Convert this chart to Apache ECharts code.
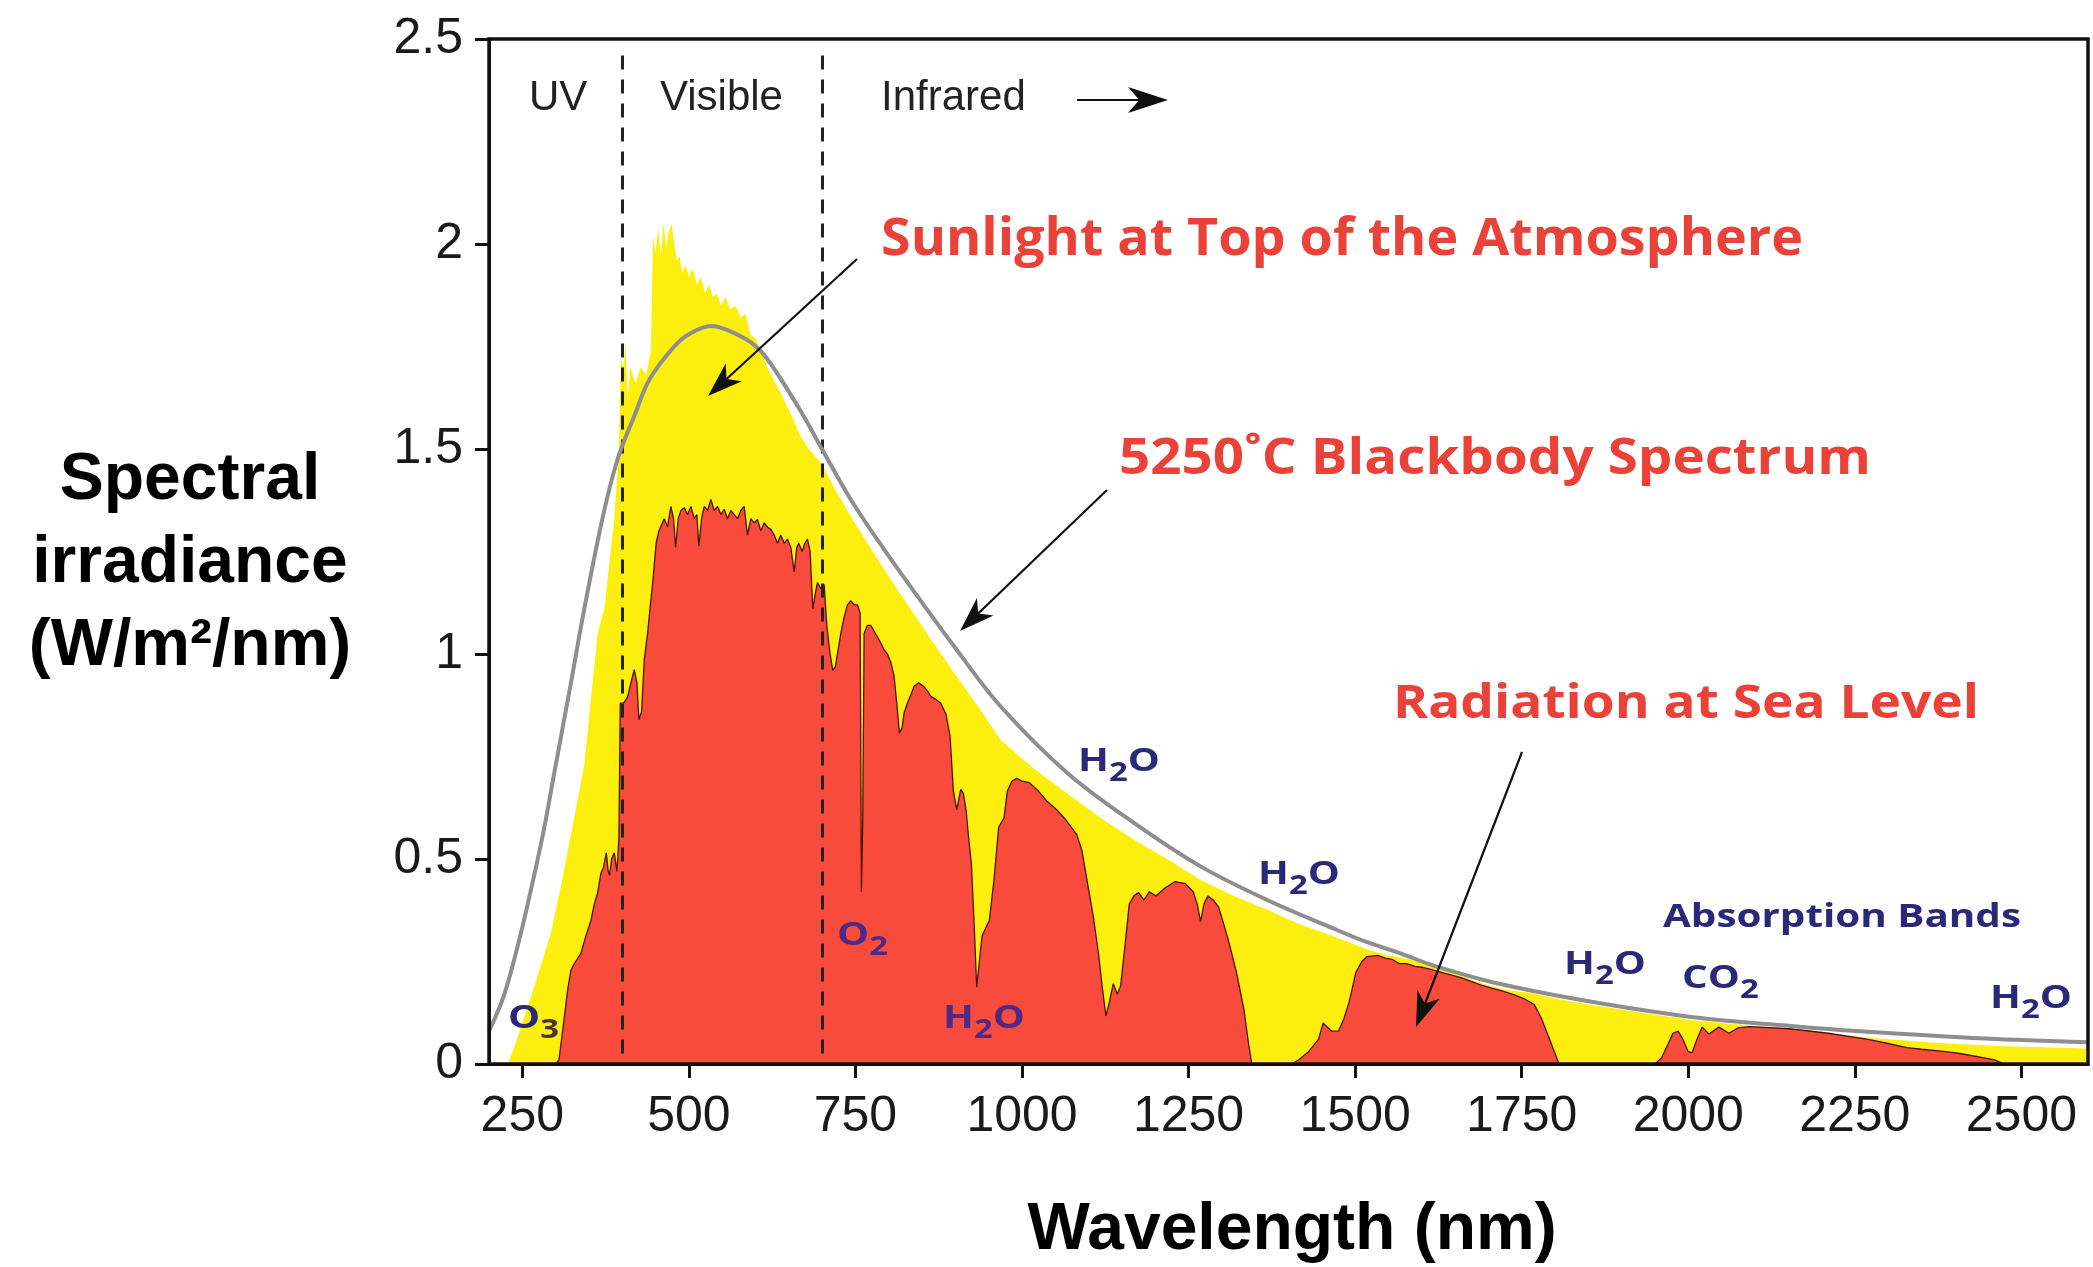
<!DOCTYPE html>
<html><head><meta charset="utf-8">
<script src="https://cdn.jsdelivr.net/npm/echarts@6/dist/echarts.min.js"></script>
<style>html,body{margin:0;padding:0;background:#fff}#c{width:2093px;height:1267px}</style>
</head><body><div id="c"></div>
<script>
// ---- data (wavelength nm, W/m2/nm) ----
const xTicks = [250, 500, 750, 1000, 1250, 1500, 1750, 2000, 2250, 2500];
const bandEdges = [400, 700];

const blackbody = [[200,0.08],[223,0.17],[248,0.32],[265,0.44],[281,0.56],[298,0.71],[306,0.78],[323,0.93],[343,1.11],[371,1.336],[393,1.475],[418,1.58],[441,1.67],[478,1.75],[500,1.78],[533,1.80],[558,1.79],[593,1.76],[618,1.719],[668,1.592],[698,1.505],[743,1.377],[793,1.255],[843,1.141],[898,1.019],[968,0.872],[1068,0.71],[1168,0.588],[1268,0.482],[1368,0.40],[1468,0.33],[1518,0.297],[1568,0.27],[1618,0.24],[1718,0.195],[1868,0.148],[2018,0.112],[2167,0.091],[2247,0.081],[2446,0.062],[2600,0.053]];

const topOfAtmosphere = [[200,0],[228,0],[240,0.05],[253,0.115],[270,0.2],[293,0.32],[310,0.45],[323,0.56],[343,0.73],[353,0.89],[363,1.05],[373,1.11],[388,1.33],[395,1.50],[398,1.72],[402,1.70],[405,1.76],[408,1.62],[412,1.70],[420,1.66],[428,1.70],[436,1.68],[443,1.74],[446,2.02],[450,1.98],[454,2.04],[458,1.97],[462,2.05],[466,1.99],[470,2.03],[474,2.05],[478,2.0],[482,1.96],[486,1.97],[490,1.93],[495,1.95],[500,1.92],[506,1.94],[512,1.90],[518,1.92],[524,1.88],[530,1.90],[536,1.87],[542,1.88],[548,1.85],[555,1.87],[562,1.84],[570,1.85],[578,1.82],[585,1.83],[592,1.78],[600,1.77],[610,1.73],[620,1.69],[630,1.66],[640,1.63],[650,1.595],[660,1.56],[668,1.53],[680,1.50],[698,1.467],[720,1.40],[743,1.336],[768,1.27],[793,1.206],[818,1.145],[843,1.084],[870,1.02],[902,0.945],[935,0.87],[968,0.79],[1018,0.72],[1068,0.66],[1118,0.60],[1168,0.547],[1218,0.50],[1268,0.449],[1318,0.41],[1368,0.376],[1418,0.34],[1468,0.311],[1518,0.28],[1534,0.272],[1550,0.265],[1600,0.25],[1650,0.22],[1688,0.198],[1720,0.183],[1768,0.172],[1800,0.16],[1850,0.145],[1919,0.128],[2000,0.108],[2094,0.093],[2180,0.08],[2270,0.064],[2370,0.052],[2474,0.043],[2600,0.038]];

const seaLevel = [[200,0],[300,0],[305,0.01],[312,0.1],[318,0.18],[323,0.229],[330,0.25],[338,0.27],[345,0.31],[353,0.35],[358,0.39],[363,0.417],[368,0.466],[372,0.48],[376,0.515],[379,0.47],[381,0.46],[384,0.50],[388,0.515],[392,0.47],[395,0.55],[397,0.88],[402,0.88],[408,0.895],[413,0.93],[418,0.962],[422,0.93],[425,0.84],[429,0.86],[433,0.986],[438,1.05],[443,1.133],[446,1.18],[451,1.272],[455,1.30],[458,1.304],[463,1.33],[468,1.31],[473,1.36],[477,1.33],[480,1.26],[484,1.33],[488,1.35],[493,1.357],[498,1.34],[503,1.36],[508,1.33],[512,1.34],[515,1.263],[519,1.33],[523,1.36],[528,1.35],[533,1.377],[538,1.35],[543,1.36],[548,1.34],[553,1.353],[558,1.33],[563,1.35],[568,1.34],[573,1.33],[578,1.35],[583,1.36],[588,1.29],[593,1.33],[598,1.32],[603,1.328],[608,1.30],[613,1.32],[618,1.31],[623,1.304],[628,1.29],[633,1.27],[638,1.29],[643,1.27],[648,1.28],[653,1.26],[658,1.20],[662,1.26],[665,1.27],[670,1.25],[674,1.27],[678,1.28],[682,1.25],[686,1.11],[690,1.15],[693,1.174],[698,1.16],[703,1.17],[707,1.07],[712,1.0],[716,0.96],[720,0.97],[724,1.01],[728,1.05],[733,1.09],[738,1.12],[743,1.13],[748,1.12],[753,1.12],[757,1.10],[759,0.42],[761,0.60],[763,1.05],[768,1.07],[773,1.07],[780,1.05],[788,1.027],[793,1.01],[798,1.0],[803,0.98],[808,0.946],[812,0.88],[816,0.807],[820,0.82],[823,0.856],[828,0.88],[833,0.90],[838,0.921],[845,0.93],[853,0.92],[858,0.91],[863,0.897],[870,0.89],[878,0.88],[886,0.853],[892,0.80],[897,0.666],[902,0.62],[908,0.67],[912,0.66],[916,0.62],[920,0.55],[924,0.489],[928,0.35],[932,0.188],[936,0.25],[940,0.312],[945,0.33],[951,0.35],[958,0.45],[965,0.578],[973,0.60],[978,0.666],[985,0.69],[992,0.697],[1000,0.69],[1011,0.686],[1025,0.665],[1038,0.64],[1052,0.62],[1066,0.595],[1082,0.56],[1090,0.52],[1098,0.444],[1107,0.36],[1115,0.267],[1121,0.18],[1126,0.117],[1131,0.15],[1137,0.196],[1143,0.17],[1148,0.19],[1154,0.28],[1161,0.39],[1168,0.41],[1175,0.418],[1183,0.40],[1191,0.42],[1201,0.41],[1215,0.43],[1230,0.445],[1245,0.44],[1257,0.42],[1263,0.39],[1268,0.347],[1273,0.39],[1279,0.41],[1287,0.40],[1295,0.383],[1303,0.34],[1311,0.294],[1322,0.223],[1333,0.134],[1340,0.05],[1345,0],[1405,0],[1415,0.01],[1430,0.03],[1445,0.06],[1452,0.1],[1458,0.09],[1465,0.08],[1475,0.08],[1483,0.11],[1491,0.151],[1501,0.223],[1510,0.25],[1518,0.262],[1534,0.265],[1545,0.258],[1556,0.255],[1566,0.245],[1577,0.245],[1590,0.238],[1600,0.236],[1615,0.23],[1638,0.22],[1660,0.21],[1688,0.193],[1705,0.185],[1722,0.178],[1740,0.168],[1755,0.158],[1769,0.145],[1780,0.11],[1792,0.06],[1806,0],[1950,0],[1960,0.015],[1970,0.05],[1977,0.075],[1985,0.08],[1992,0.06],[2000,0.03],[2006,0.028],[2013,0.06],[2021,0.09],[2031,0.073],[2046,0.09],[2061,0.075],[2075,0.088],[2092,0.091],[2152,0.086],[2210,0.075],[2270,0.06],[2300,0.05],[2328,0.04],[2350,0.036],[2387,0.03],[2410,0.025],[2444,0.015],[2460,0.01],[2474,0],[2600,0]];

// ---- styling helpers ----
const SANS = '"Liberation Sans", Arial, Helvetica, sans-serif';
const LBL = '"Open Sans", "Noto Sans", sans-serif';
const RED = '#EA4238', NAVY = '#2A2878', PURPLE = '#4E2A84';
const mctx = document.createElement('canvas').getContext('2d');
function textW(t, weight, size, fam) { mctx.font = weight + ' ' + size + 'px ' + fam; return mctx.measureText(t).width; }
function txt(t, x, y, size, weight, fam, color, align, sx) {
  return { type: 'text', x: x, y: y, z: 100, scaleX: sx || 1,
    style: { text: t, fontSize: size, fontWeight: weight, fontFamily: fam, fill: color,
      align: align, verticalAlign: 'middle', textAlign: align, textVerticalAlign: 'middle' } };
}
function fitted(t, left, capY, size, color, targetW) {
  const sx = targetW / textW(t, 'bold', size, LBL);
  return txt(t, left, capY, size, 'bold', LBL, color, 'left', sx);
}
const NAVY_SIZE = 32, SUB_SIZE = 26;
const navySx = 358 / textW('Absorption Bands', 'bold', NAVY_SIZE, LBL);
function chem(tokens, left, capY, color, subColor) {
  const els = []; let cx = left;
  tokens.forEach(function (tk) {
    const t = tk[0], sub = tk[1];
    const size = sub ? SUB_SIZE : NAVY_SIZE;
    els.push(txt(t, cx, capY + (sub ? 12 : 0), size, 'bold', LBL, sub && subColor ? subColor : color, 'left', navySx));
    cx += textW(t, 'bold', size, LBL) * navySx;
  });
  return els;
}
function arrow(x1, y1, x2, y2, hl, hw) {
  const dx = x2 - x1, dy = y2 - y1, L = Math.hypot(dx, dy), ux = dx / L, uy = dy / L, px = -uy, py = ux;
  const bx = x2 - ux * hl, by = y2 - uy * hl, nx = x2 - ux * hl * 0.72, ny = y2 - uy * hl * 0.72;
  return [
    { type: 'line', z: 100, shape: { x1: x1, y1: y1, x2: nx, y2: ny }, style: { stroke: '#111', lineWidth: 2.2 } },
    { type: 'polygon', z: 100, shape: { points: [[x2, y2], [bx + px * hw / 2, by + py * hw / 2], [nx, ny], [bx - px * hw / 2, by - py * hw / 2]] }, style: { fill: '#111' } }
  ];
}

const graphics = [].concat(
  [
    { type: 'rect', z: 50, silent: true, shape: { x: 489, y: 39, width: 1599, height: 1025 }, style: { fill: 'none', stroke: '#111', lineWidth: 3.5 } },
    txt('Spectral', 190, 481, 66, 'bold', SANS, '#000', 'center'),
    txt('irradiance', 190, 564, 66, 'bold', SANS, '#000', 'center'),
    txt('(W/m²/nm)', 190, 647, 66, 'bold', SANS, '#000', 'center'),
    txt('Wavelength (nm)', 1292, 1231, 66, 'bold', SANS, '#000', 'center'),
    txt('UV', 529, 98, 42, 'normal', SANS, '#222', 'left'),
    txt('Visible', 660, 98, 42, 'normal', SANS, '#222', 'left'),
    txt('Infrared', 881, 98, 42, 'normal', SANS, '#222', 'left'),
    fitted('Sunlight at Top of the Atmosphere', 881, 240, 52, RED, 922),
    fitted('5250˚C Blackbody Spectrum', 1119, 460, 50, RED, 752),
    fitted('Radiation at Sea Level', 1393, 705, 47, RED, 586),
    txt('Absorption Bands', 1663, 918, NAVY_SIZE, 'bold', LBL, NAVY, 'left', navySx)
  ],
  arrow(1077, 100, 1168, 100, 40, 26),
  arrow(857, 259, 708, 396, 35, 24),
  arrow(1107, 490, 960, 631, 35, 24),
  arrow(1522, 752, 1416, 1027, 35, 24),
  chem([['O', 0], ['3', 1]], 508, 1019, NAVY, '#4A3526'),
  chem([['O', 0], ['2', 1]], 837, 936, PURPLE),
  chem([['H', 0], ['2', 1], ['O', 0]], 943, 1019, PURPLE),
  chem([['H', 0], ['2', 1], ['O', 0]], 1078, 762, NAVY),
  chem([['H', 0], ['2', 1], ['O', 0]], 1258, 875, NAVY),
  chem([['H', 0], ['2', 1], ['O', 0]], 1564, 965, NAVY),
  chem([['C', 0], ['O', 0], ['2', 1]], 1682, 979, NAVY),
  chem([['H', 0], ['2', 1], ['O', 0]], 1990, 999, NAVY)
);

const chart = echarts.init(document.getElementById('c'), null, { renderer: 'canvas' });
chart.setOption({
  animation: false,
  backgroundColor: '#fff',
  grid: { left: 489, right: 5, top: 39, bottom: 203 },
  xAxis: {
    type: 'value', min: 200, max: 2600, z: 20,
    axisLine: { show: true, onZero: false, lineStyle: { color: '#111', width: 3 } },
    axisTick: { show: true, customValues: xTicks, length: 14, lineStyle: { color: '#111', width: 3 } },
    axisLabel: { customValues: xTicks, fontSize: 50, fontFamily: SANS, color: '#1a1a1a', margin: 28,
      formatter: function (v) { return String(v); } },
    splitLine: { show: false }
  },
  yAxis: {
    type: 'value', min: 0, max: 2.5, interval: 0.5, z: 20,
    axisLine: { show: true, lineStyle: { color: '#111', width: 3 } },
    axisTick: { show: true, length: 14, lineStyle: { color: '#111', width: 3 } },
    axisLabel: { fontSize: 50, fontFamily: SANS, color: '#1a1a1a', margin: 26 },
    splitLine: { show: false }
  },
  series: [
    { type: 'line', name: 'Sunlight at Top of the Atmosphere', data: topOfAtmosphere, z: 2, showSymbol: false, silent: true,
      lineStyle: { width: 0 }, areaStyle: { color: '#FDEF0D', opacity: 1 } },
    { type: 'line', name: 'Radiation at Sea Level', data: seaLevel, z: 3, showSymbol: false, silent: true,
      lineStyle: { width: 1.3, color: '#4a140a' }, areaStyle: { color: '#F94B3B', opacity: 1 } },
    { type: 'line', name: 'bands', data: [], z: 4, silent: true,
      markLine: { silent: true, z: 5, symbol: ['none', 'none'], label: { show: false },
        lineStyle: { type: [14, 10], color: '#222', width: 3 },
        data: bandEdges.map(function (x) { return [{ coord: [x, 2.46] }, { coord: [x, 0] }]; }) } },
    { type: 'line', name: '5250˚C Blackbody Spectrum', data: blackbody, z: 10, smooth: 0.35, showSymbol: false, silent: true,
      lineStyle: { width: 4, color: '#8E8E8E' } }
  ],
  graphic: { elements: graphics }
});
</script>
</body></html>
